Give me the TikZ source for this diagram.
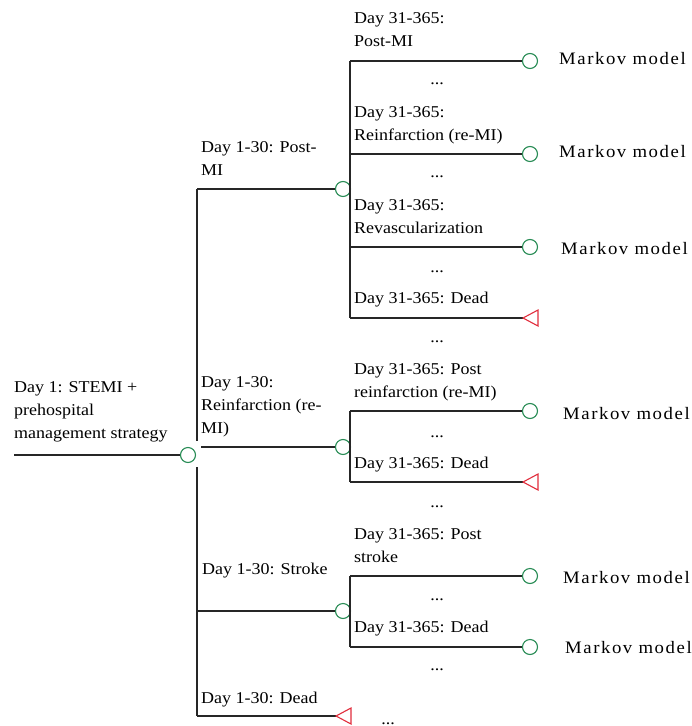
\documentclass[tikz,border=0pt]{standalone}
\usepackage{fontspec}
\setmainfont[FakeStretch=1.09]{Liberation Serif}
\newfontfamily\markovfont[FakeStretch=1.07,LetterSpace=9]{Liberation Serif}
\definecolor{mgreen}{RGB}{40,140,85}
\definecolor{mred}{RGB}{225,45,60}
\tikzset{
  chance/.style={circle, draw=mgreen, line width=1.1pt, minimum size=15pt, inner sep=0pt, fill=white},
  branch/.style={draw=black!85, line width=1.2pt},
  term/.style={draw=mred, line width=1.1pt, fill=white},
  lbl/.style={anchor=base west, align=left, inner sep=0pt, font=\fontsize{16.5}{23}\selectfont},
  mk/.style={anchor=base west, inner sep=0pt, font=\markovfont\fontsize{17.5}{23}\selectfont},
  dts/.style={anchor=base, inner sep=0pt, font=\fontsize{16.5}{23}\selectfont},
}
\begin{document}
\begin{tikzpicture}[x=1pt,y=-1pt]
\useasboundingbox (0,0) rectangle (692,726);
% root
\coordinate (r0) at (14,455);
\node[chance] (c0) at (188,455) {};
\draw[branch] (r0) -- (c0.west);
\node[lbl] (l0) at (14,438) {Day 1: STEMI +\\prehospital\\management strategy};
% main vertical
\coordinate (vtop) at (197,189);
\coordinate (vg1) at (197,441);
\coordinate (vg2) at (197,467);
\coordinate (vbot) at (197,716);
\draw[branch] (vtop) -- (vg1);
\draw[branch] (vg2) -- (vbot);
% level-1 chance nodes
\node[chance] (c1) at (343,189) {};
\coordinate (b2) at (201,447);
\node[chance] (c2) at (343,447) {};
\coordinate (b3) at (197,611);
\node[chance] (c3) at (343,611) {};
\coordinate (d0) at (336,716);
\draw[branch] (vtop) -- (c1.west);
\draw[branch] (b2) -- (c2.west);
\draw[branch] (b3) -- (c3.west);
\draw[branch] (vbot) -- (d0);
\draw[term] (d0) -- ++(15,-8) -- ++(0,16) -- cycle;
\node[lbl] (l1) at (201,175) {Day 1-30: Post-\\MI};
\node[lbl] (l2) at (201,433) {Day 1-30:\\Reinfarction (re-\\MI)};
\node[lbl] (l3) at (202,574) {Day 1-30: Stroke};
\node[lbl] (l4) at (201,703) {Day 1-30: Dead};
\node[dts] (e0) at (388,724) {...};
% subtree 1
\coordinate (s1a) at (350,61);
\coordinate (s1b) at (350,154);
\coordinate (s1c) at (350,247);
\coordinate (s1d) at (350,318);
\draw[branch] (s1a) -- (s1d);
\node[chance] (m11) at (530,61) {};
\node[chance] (m12) at (530,154) {};
\node[chance] (m13) at (530,247) {};
\coordinate (t14) at (523,318);
\draw[branch] (s1a) -- (m11.west);
\draw[branch] (s1b) -- (m12.west);
\draw[branch] (s1c) -- (m13.west);
\draw[branch] (s1d) -- (t14);
\draw[term] (t14) -- ++(15,-8) -- ++(0,16) -- cycle;
\node[lbl] (l11) at (354,46) {Day 31-365:\\Post-MI};
\node[lbl] (l12) at (354,140) {Day 31-365:\\Reinfarction (re-MI)};
\node[lbl] (l13) at (354,233) {Day 31-365:\\Revascularization};
\node[lbl] (l14) at (354,303) {Day 31-365: Dead};
\node[mk] (k11) at (559,64) {Markov model};
\node[mk] (k12) at (559,157) {Markov model};
\node[mk] (k13) at (561,254) {Markov model};
\node[dts] (e11) at (437,84) {...};
\node[dts] (e12) at (437,177) {...};
\node[dts] (e13) at (437,272) {...};
\node[dts] (e14) at (437,342) {...};
% subtree 2
\coordinate (s2a) at (350,411);
\coordinate (s2b) at (350,482);
\draw[branch] (s2a) -- (s2b);
\node[chance] (m21) at (530,411) {};
\coordinate (t22) at (523,482);
\draw[branch] (s2a) -- (m21.west);
\draw[branch] (s2b) -- (t22);
\draw[term] (t22) -- ++(15,-8) -- ++(0,16) -- cycle;
\node[lbl] (l21) at (354,397) {Day 31-365: Post\\reinfarction (re-MI)};
\node[lbl] (l22) at (354,468) {Day 31-365: Dead};
\node[mk] (k21) at (563,419) {Markov model};
\node[dts] (e21) at (437,437) {...};
\node[dts] (e22) at (437,507) {...};
% subtree 3
\coordinate (s3a) at (350,576);
\coordinate (s3b) at (350,647);
\draw[branch] (s3a) -- (s3b);
\node[chance] (m31) at (530,576) {};
\node[chance] (m32) at (530,647) {};
\draw[branch] (s3a) -- (m31.west);
\draw[branch] (s3b) -- (m32.west);
\node[lbl] (l31) at (354,562) {Day 31-365: Post\\stroke};
\node[lbl] (l32) at (354,632) {Day 31-365: Dead};
\node[mk] (k31) at (563,583) {Markov model};
\node[mk] (k32) at (565,653) {Markov model};
\node[dts] (e31) at (437,600) {...};
\node[dts] (e32) at (437,670) {...};
\end{tikzpicture}
\end{document}
